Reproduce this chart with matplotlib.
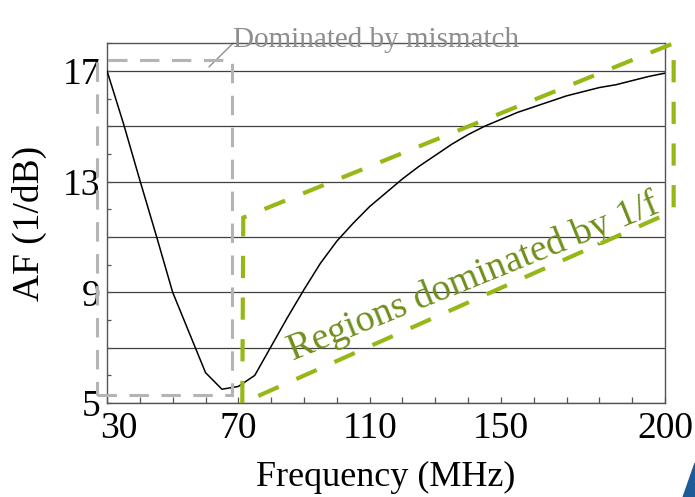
import matplotlib
matplotlib.use("Agg")
import matplotlib.pyplot as plt
import matplotlib.transforms as mtransforms
from matplotlib.patches import Polygon, Rectangle
from matplotlib.ticker import FixedLocator, FixedFormatter, MultipleLocator

plt.rcParams["font.family"] = ["Liberation Serif", "DejaVu Serif"]
plt.rcParams["lines.scale_dashes"] = False

# ---- data ----
freq = [30, 35, 40, 45, 50, 55, 60, 65, 70, 75, 80, 85, 90, 95, 100, 105,
        110, 115, 120, 125, 130, 135, 140, 145, 150, 155, 160, 165, 170,
        175, 180, 185, 190, 195, 200]
af = [17.0, 15.1, 13.05, 11.05, 9.0, 7.55, 6.1, 5.5, 5.6, 6.0, 7.05, 8.1,
      9.1, 10.05, 10.85, 11.5, 12.1, 12.6, 13.1, 13.55, 13.95, 14.35, 14.7,
      15.0, 15.25, 15.5, 15.7, 15.9, 16.1, 16.25, 16.4, 16.5, 16.65, 16.8,
      16.92]

x_ticks = [30, 70, 110, 150, 200]
grid_levels = [5, 7, 9, 11, 13, 15, 17]
y_labels = ["5", "", "9", "", "13", "", "17"]

# annotation regions (data units)
mismatch_x = (27.0, 68.1)
mismatch_y = (5.3, 17.4)
flicker_region = [(71.2, 5.0), (71.5, 11.7), (202.6, 18.0), (202.6, 11.94)]

GRAY = "#b4b4b4"
GRAY_TXT = "#8e8e8e"
GREEN = "#95b816"
GREEN_TXT = "#6f8f1c"
AXIS = "#555555"

fig = plt.figure(figsize=(6.95, 4.97), dpi=100)
ax = fig.add_axes([0.154, 0.189, 0.803, 0.724])

ax.plot(freq, af, color="black", lw=1.1, zorder=3)

ax.set_xlim(30, 200)
ax.set_ylim(5, 18)

ax.xaxis.set_major_locator(FixedLocator(x_ticks))
ax.xaxis.set_minor_locator(MultipleLocator(10))
ax.yaxis.set_major_locator(FixedLocator(grid_levels))
ax.yaxis.set_major_formatter(FixedFormatter(y_labels))
ax.yaxis.set_minor_locator(MultipleLocator(1))

ax.tick_params(which="both", direction="in", color=AXIS, width=0.9,
               labelsize=27, top=False, right=False)
ax.tick_params(axis="x", which="both", length=4, pad=6)
ax.tick_params(axis="y", which="both", length=3, pad=5)
ax.yaxis.grid(True, which="major", color="#404040", lw=0.9)

for sp in ax.spines.values():
    sp.set_color(AXIS)
    sp.set_linewidth(1.0)

ax.set_xlabel("Frequency (MHz)", fontsize=26, labelpad=11)
ax.set_ylabel("AF (1/dB)", fontsize=27, labelpad=11)

# shift the first x label a bit right, as in the original
first = ax.get_xticklabels()[0]
first.set_transform(first.get_transform() +
                    mtransforms.ScaledTranslation(0.12, 0, fig.dpi_scale_trans))

# region dominated by mismatch
ax.add_patch(Rectangle((mismatch_x[0], mismatch_y[0]),
                       mismatch_x[1] - mismatch_x[0],
                       mismatch_y[1] - mismatch_y[0],
                       fill=False, ec=GRAY, lw=2.2, ls=(0, (14, 9)),
                       clip_on=False, zorder=4))
ax.plot([61.1, 68.4], [17.15, 18.0], color=GRAY_TXT, lw=1.0, clip_on=False)
ax.text(68.4, 17.87, "Dominated by mismatch", color=GRAY_TXT, fontsize=21,
        ha="left", va="baseline", clip_on=False)

# region dominated by 1/f
ax.add_patch(Polygon(flicker_region, closed=True, fill=False, ec=GREEN,
                     lw=3.0, ls=(0, (16, 14)), clip_on=False, zorder=4))
ax.text(86.6, 6.55, "Regions dominated by 1/f", color=GREEN_TXT, fontsize=27.5,
        rotation=22, rotation_mode="anchor", ha="left", va="baseline")

# slide decoration in the bottom-right corner
fig.patches.append(Polygon([(0.983, 0.0), (1.0, 0.068), (1.0, 0.0)],
                           closed=True, transform=fig.transFigure,
                           color="#1c5b98", zorder=0))

fig.savefig("out.png", dpi=100)
